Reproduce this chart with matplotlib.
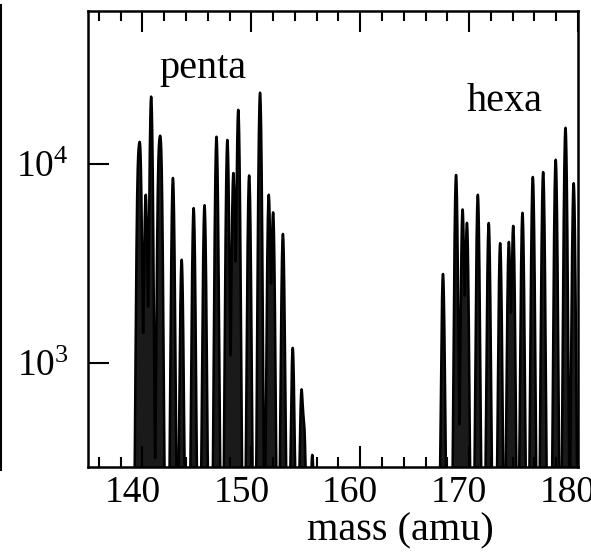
import numpy as np
import matplotlib
matplotlib.use("Agg")
import matplotlib.pyplot as plt
from matplotlib.transforms import ScaledTranslation
from matplotlib.lines import Line2D

plt.rcParams["font.family"] = ["Liberation Serif", "DejaVu Serif"]
plt.rcParams["mathtext.fontset"] = "custom"
plt.rcParams["mathtext.rm"] = "Liberation Serif"

# Peak list: mass (amu) and intensity (counts)
penta_mass = [139.6, 139.8, 140.3, 140.8, 141.5, 141.7, 142.8, 143.6, 144.7,
              145.7, 146.8, 147.8, 148.35, 148.8, 149.8, 150.8, 151.6, 152.0,
              152.9, 153.8, 154.6, 154.85, 155.6]
penta_int = [8800, 10500, 7000, 21800, 9900, 11000, 8500, 3300, 6000,
             6200, 13700, 13200, 9000, 18700, 8750, 22800, 7000, 5700,
             4450, 1190, 710, 460, 345]

hexa_mass = [167.6, 168.8, 169.4, 169.8, 170.8, 171.8, 172.85, 173.65, 174.05,
             174.9, 175.85, 176.8, 177.95, 178.85, 179.6]
hexa_int = [2800, 8800, 5900, 5050, 7000, 5050, 4000, 4050, 4880,
            5680, 8600, 9100, 10500, 15200, 8000]

x_ticks = [140, 150, 160, 170, 180]
y_ticks = [1e3, 1e4]
y_tick_labels = [r"$\mathregular{10^3}$", r"$\mathregular{10^4}$"]

baseline = 150.0
width = 0.11  # peak sigma in amu

fig = plt.figure(figsize=(5.91, 5.57), dpi=100)
ax = fig.add_axes([88 / 591, 1 - 467 / 557, 490 / 591, 456 / 557])

mz = np.arange(135.0, 180.3, 0.004)
signal = np.full_like(mz, baseline)
for m, h in zip(penta_mass + hexa_mass, penta_int + hexa_int):
    signal += (h - baseline) * np.exp(-0.5 * ((mz - m) / width) ** 2)

ax.fill_between(mz, signal, 1, color="#1a1a1a", lw=0)
ax.plot(mz, signal, color="black", lw=1.8)

ax.set_yscale("log")
ax.set_xlim(135, 180)
ax.set_ylim(300, 58700)

ax.set_xticks(x_ticks)
ax.set_xticks(np.arange(136, 180, 2), minor=True)
ax.set_yticks(y_ticks)
ax.set_yticklabels(y_tick_labels)
ax.yaxis.set_minor_locator(matplotlib.ticker.NullLocator())

ax.tick_params(axis="x", which="major", direction="in", length=15, width=1.5,
               top=True, labelsize=27, pad=6)
ax.tick_params(axis="x", which="minor", direction="in", length=7, width=1.5,
               top=True)
ax.tick_params(axis="y", which="major", direction="in", length=15, width=1.5,
               labelsize=27, pad=14)

shift = ScaledTranslation(-10 / 100, 0, fig.dpi_scale_trans)
for lab in ax.get_xticklabels():
    lab.set_transform(lab.get_transform() + shift)

for s in ax.spines.values():
    s.set_linewidth(1.8)

ax.set_xlabel("mass (amu)", fontsize=29, labelpad=0)
ax.xaxis.set_label_coords((400 - 88) / 490, -0.10)

ax.text(145.55, 27000, "penta", fontsize=29, ha="center", va="baseline")
ax.text(173.3, 18500, "hexa", fontsize=29, ha="center", va="baseline")

# neighbouring panel border on the far left
fig.add_artist(Line2D([1.5 / 591, 1.5 / 591], [1 - 470 / 557, 1 - 5 / 557],
                      transform=fig.transFigure, color="black", lw=1.5))

fig.savefig("out.png", dpi=100)
